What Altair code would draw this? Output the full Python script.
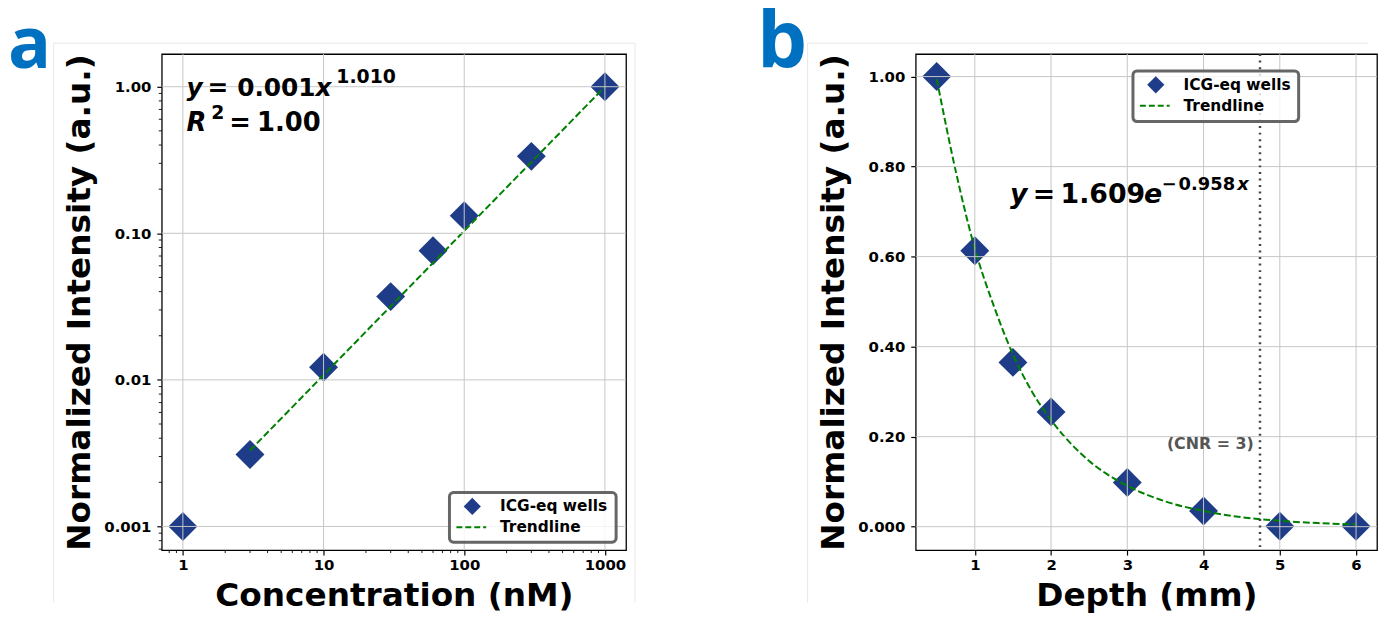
import altair as alt
import pandas as pd

# ---------------- Panel a data ----------------
conc = [1, 3, 10, 30, 60, 100, 300, 1000]
intensity_a = [0.001, 0.0031, 0.0122, 0.037, 0.076, 0.132, 0.335, 1.0]
trend_a_x = [3, 1000]
trend_a_y = [0.0033, 1.0]
xa_ticks = [1, 10, 100, 1000]
xa_labels = ["1", "10", "100", "1000"]
ya_ticks = [0.001, 0.01, 0.1, 1.0]
ya_labels = ["0.001", "0.01", "0.10", "1.00"]
xa_minor = [0.8, 0.9, 2, 3, 4, 5, 6, 7, 8, 9, 20, 30, 40, 50, 60, 70, 80, 90,
            200, 300, 400, 500, 600, 700, 800, 900]
ya_minor = [0.0007, 0.0008, 0.0009, 0.002, 0.003, 0.004, 0.005, 0.006, 0.007, 0.008, 0.009,
            0.02, 0.03, 0.04, 0.05, 0.06, 0.07, 0.08, 0.09,
            0.2, 0.3, 0.4, 0.5, 0.6, 0.7, 0.8, 0.9]
xa_domain = [0.708, 1413]
ya_domain = [0.00069, 1.67]

# ---------------- Panel b data ----------------
depth = [0.5, 1, 1.5, 2, 3, 4, 5, 6]
intensity_b = [1.0, 0.613, 0.365, 0.255, 0.098, 0.035, 0.001, 0.001]
trend_b_x = [0.5, 0.75, 1, 1.25, 1.5, 1.75, 2, 2.5, 3, 3.5, 4, 4.5, 5, 5.5, 6]
trend_b_y = [0.995, 0.79, 0.618, 0.49, 0.383, 0.30, 0.237, 0.146, 0.091, 0.056, 0.035,
             0.021, 0.013, 0.008, 0.005]
xb_ticks = [1, 2, 3, 4, 5, 6]
xb_labels = ["1", "2", "3", "4", "5", "6"]
yb_ticks = [0.0, 0.2, 0.4, 0.6, 0.8, 1.0]
yb_labels = ["0.000", "0.20", "0.40", "0.60", "0.80", "1.00"]
xb_domain = [0.225, 6.275]
yb_domain = [-0.052, 1.05]
cnr_depth = [4.74]
cnr_label = ["(CNR = 3)"]
cnr_label_pos = [4.66, 0.183]

NAVY = "#1f3c88"
GREEN = "#008000"
GRID = "#c6c6c6"
FONT = "DejaVu Sans"
LETTER = "#0070c0"
FAINT = "#e8e8e8"


def label_expr(vals, labels):
    expr = "''"
    for v, l in reversed(list(zip(vals, labels))):
        expr = f"(abs(datum.value - {v}) < {abs(v) * 1e-6 + 1e-12}) ? '{l}' : " + expr
    return expr


def one():
    return pd.DataFrame({"k": [0]})


def text_px(txt, x, y, size, style="normal", color="black", align="left",
            baseline="alphabetic", font=FONT, weight="bold"):
    return alt.Chart(one()).mark_text(
        text=txt, font=font, fontSize=size, fontWeight=weight, fontStyle=style,
        color=color, align=align, baseline=baseline
    ).encode(x=alt.value(x), y=alt.value(y))


def legend(x0, x1, y0, y1, dx, dy1, dy2):
    box = alt.Chart(one()).mark_rect(
        fill="white", fillOpacity=0.8, stroke="#666666", strokeWidth=3, cornerRadius=4
    ).encode(x=alt.value(x0), x2=alt.value(x1), y=alt.value(y0), y2=alt.value(y1))
    sym = alt.Chart(one()).mark_point(
        shape="diamond", filled=True, color=NAVY, size=300, opacity=1
    ).encode(x=alt.value(dx + 16), y=alt.value(dy1))
    line = alt.Chart(one()).mark_rule(
        color=GREEN, strokeWidth=2, strokeDash=[6, 3]
    ).encode(x=alt.value(dx), x2=alt.value(dx + 30), y=alt.value(dy2))
    t1 = text_px("ICG-eq wells", dx + 44, dy1, 15.5, baseline="middle")
    t2 = text_px("Trendline", dx + 44, dy2, 15.5, baseline="middle")
    return [box, sym, line, t1, t2]


TOP_GUIDE = -60


def frame(left, top, right, bottom, right_line=True):
    out = [
        alt.Chart(one()).mark_rule(color=FAINT, strokeWidth=1).encode(
            x=alt.value(left), y=alt.value(top), y2=alt.value(bottom)),
        alt.Chart(one()).mark_rule(color=FAINT, strokeWidth=1).encode(
            x=alt.value(left), x2=alt.value(right), y=alt.value(top)),
        # invisible guide that fixes the top of each panel's bounds
        alt.Chart(one()).mark_rule(opacity=0, strokeWidth=1).encode(
            x=alt.value(left), x2=alt.value(left + 5), y=alt.value(TOP_GUIDE)),
    ]
    if right_line:
        out.append(alt.Chart(one()).mark_rule(color=FAINT, strokeWidth=1).encode(
            x=alt.value(right), y=alt.value(top), y2=alt.value(bottom)))
    return out


XPAD, YPAD = 3, 6

# ---------------- Panel a ----------------
WA, HA = 468, 500
xa_scale = alt.Scale(type="log", domain=xa_domain, nice=False, zero=False)
ya_scale = alt.Scale(type="log", domain=ya_domain, nice=False, zero=False)
xa_axis = alt.Axis(values=xa_ticks, labelExpr=label_expr(xa_ticks, xa_labels),
                   title="Concentration (nM)", titlePadding=7, labelPadding=XPAD)
ya_axis = alt.Axis(values=ya_ticks, labelExpr=label_expr(ya_ticks, ya_labels),
                   title="Normalized Intensity (a.u.)", titlePadding=7, labelPadding=YPAD)


def xa(f="x"):
    return alt.X(f"{f}:Q", scale=xa_scale, axis=xa_axis)


def ya(f="y"):
    return alt.Y(f"{f}:Q", scale=ya_scale, axis=ya_axis)


df_a = pd.DataFrame({"x": conc, "y": intensity_a})
pts_a = alt.Chart(df_a).mark_point(
    shape="diamond", filled=True, color=NAVY, size=850, opacity=1
).encode(x=xa(), y=ya())
trend_a = alt.Chart(pd.DataFrame({"x": trend_a_x, "y": trend_a_y})).mark_line(
    color=GREEN, strokeWidth=2, strokeDash=[7, 3]
).encode(x=xa(), y=ya())
gx_a = alt.Chart(pd.DataFrame({"x": xa_ticks})).mark_rule(color=GRID, strokeWidth=1).encode(x=xa())
gy_a = alt.Chart(pd.DataFrame({"y": ya_ticks})).mark_rule(color=GRID, strokeWidth=1).encode(y=ya())
mx_a = alt.Chart(pd.DataFrame({"x": xa_minor})).mark_rule(color="black", strokeWidth=0.9).encode(
    x=xa(), y=alt.value(HA), y2=alt.value(HA + 3))
my_a = alt.Chart(pd.DataFrame({"y": ya_minor})).mark_rule(color="black", strokeWidth=0.9).encode(
    y=ya(), x=alt.value(0), x2=alt.value(-3))

eq_a = [
    text_px("y", 25, 42, 25, style="italic"),
    text_px("=", 46, 42, 25),
    text_px("0.001", 76, 42, 25),
    text_px("x", 155, 42, 25, style="italic"),
    text_px("1.010", 176, 29, 19),
    text_px("R", 25, 78, 26, style="italic"),
    text_px("2", 50, 65, 19),
    text_px("=", 68, 78, 26),
    text_px("1.00", 96, 78, 26),
]
letter_a = text_px("a", -155, 14, 72, color=LETTER, font="Open Sans")

panel_a = alt.layer(
    *frame(-109, -11, 477, 553),
    pts_a, trend_a, gx_a, gy_a, mx_a, my_a, *eq_a,
    *legend(290, 458, 442, 492, 297, 456, 477), letter_a,
).properties(width=WA, height=HA)

# ---------------- Panel b ----------------
WB, HB = 465, 500
xb_scale = alt.Scale(domain=xb_domain, nice=False, zero=False)
yb_scale = alt.Scale(domain=yb_domain, nice=False, zero=False)
xb_axis = alt.Axis(values=xb_ticks, labelExpr=label_expr(xb_ticks, xb_labels),
                   title="Depth (mm)", titlePadding=7, labelPadding=XPAD)
yb_axis = alt.Axis(values=yb_ticks, labelExpr=label_expr(yb_ticks, yb_labels),
                   title="Normalized Intensity (a.u.)", titlePadding=7, labelPadding=YPAD)


def xb(f="x"):
    return alt.X(f"{f}:Q", scale=xb_scale, axis=xb_axis)


def yb(f="y"):
    return alt.Y(f"{f}:Q", scale=yb_scale, axis=yb_axis)


df_b = pd.DataFrame({"x": depth, "y": intensity_b})
pts_b = alt.Chart(df_b).mark_point(
    shape="diamond", filled=True, color=NAVY, size=850, opacity=1
).encode(x=xb(), y=yb())
trend_b = alt.Chart(pd.DataFrame({"x": trend_b_x, "y": trend_b_y})).mark_line(
    color=GREEN, strokeWidth=2, strokeDash=[7, 3], interpolate="monotone"
).encode(x=xb(), y=yb())
gx_b = alt.Chart(pd.DataFrame({"x": xb_ticks})).mark_rule(color=GRID, strokeWidth=1).encode(x=xb())
gy_b = alt.Chart(pd.DataFrame({"y": yb_ticks})).mark_rule(color=GRID, strokeWidth=1).encode(y=yb())
vline = alt.Chart(pd.DataFrame({"x": cnr_depth})).mark_rule(
    color="#444444", strokeWidth=2.5, strokeDash=[2, 4.6]
).encode(x=xb())
cnr = alt.Chart(pd.DataFrame({"x": [cnr_label_pos[0]], "y": [cnr_label_pos[1]], "t": cnr_label})).mark_text(
    font=FONT, fontSize=16, fontWeight="bold", color="#555555", align="right", baseline="middle"
).encode(x=xb(), y=yb(), text="t:N")

eq_b = [
    text_px("y", 95, 150, 27, style="italic"),
    text_px("=", 118, 150, 27),
    text_px("1.609", 146, 150, 27),
    text_px("e", 230, 150, 27, style="italic"),
    text_px("\u2212", 248, 137, 18),
    text_px("0.958", 265, 137, 18),
    text_px("x", 324, 137, 18, style="italic"),
]
letter_b = text_px("b", -160, 13, 80, color=LETTER, font="Open Sans")

panel_b = alt.layer(
    *frame(-109, -11, 456, 553, right_line=False),
    pts_b, trend_b, gx_b, gy_b, vline, cnr, *eq_b,
    *legend(219, 386, 17, 68, 226, 31, 52), letter_b,
).properties(width=WB, height=HB)

chart = alt.hconcat(panel_a, panel_b, spacing=120).properties(
    padding={"left": -1, "top": -17, "right": 0, "bottom": 0}
).configure_view(
    stroke="black", strokeWidth=1.3
).configure_axis(
    labelFont=FONT, labelFontWeight="bold", labelFontSize=15, labelColor="black",
    titleFont=FONT, titleFontWeight="bold", titleFontSize=33,
    titleColor="black", domain=False, grid=False, tickColor="black",
    tickWidth=1.2, tickSize=5
)

chart.save("out.html", embed_options={"renderer": "svg", "actions": False})
